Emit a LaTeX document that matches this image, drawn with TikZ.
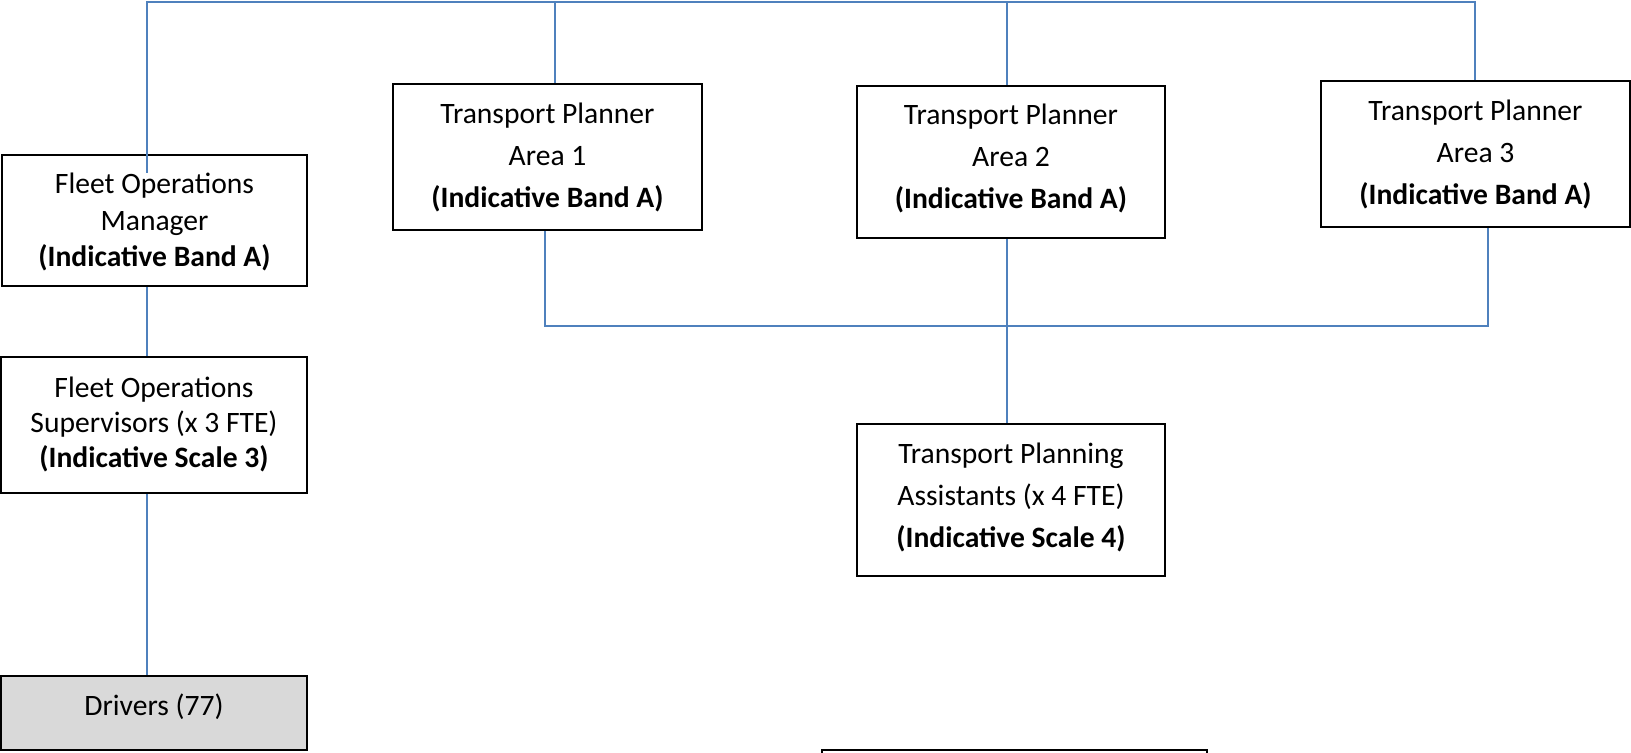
\documentclass[tikz,border=0pt]{standalone}
\usepackage{fontspec}
\setmainfont{Carlito}
\usetikzlibrary{fit}
\definecolor{linkblue}{HTML}{4F81BD}
\definecolor{drvgray}{HTML}{D9D9D9}
\begin{document}
\begin{tikzpicture}[x=0.5pt,y=-0.5pt,
  box/.style={draw=black, line width=1.1pt, inner sep=0pt, fill=white},
  lbl/.style={align=center, inner sep=0pt},
  tight/.style={font=\fontsize{14.8}{17.5}\selectfont},
  mid/.style={font=\fontsize{14.8}{18.3}\selectfont},
  loose/.style={font=\fontsize{14.8}{21}\selectfont},
  link/.style={draw=linkblue, line width=1pt}]
\useasboundingbox (0,0) rectangle (1631,753);
\fill[white] (0,0) rectangle (1631,753);

% boxes
\node[box, fit={(2,155) (307,286)}] (fom) {};
\node[box, fit={(0.5,357) (307,493)}] (fos) {};
\node[box, fill=drvgray, fit={(0.5,676) (307,750)}] (drv) {};
\node[box, fit={(393,84) (702,230)}] (tp1) {};
\node[box, fit={(857,86) (1165,238)}] (tp2) {};
\node[box, fit={(1321,81) (1630,227)}] (tp3) {};
\node[box, fit={(857,424) (1165,576)}] (tpa) {};
\node[box, fit={(822,750) (1207,840)}] (extra) {};

% labels
\node[lbl, mid] (fomt) at (154.5,222) {Fleet Operations\\Manager\\\textbf{(Indicative Band A)}};
\node[lbl, tight] (fost) at (154,424) {Fleet Operations\\Supervisors (x 3 FTE)\\\textbf{(Indicative Scale 3)}};
\node[lbl, tight] (drvt) at (154,707) {Drivers (77)};
\node[lbl, loose] (tp1t) at (547.5,157) {Transport Planner\\Area 1\\\textbf{(Indicative Band A)}};
\node[lbl, loose] (tp2t) at (1011,158) {Transport Planner\\Area 2\\\textbf{(Indicative Band A)}};
\node[lbl, loose] (tp3t) at (1475.5,154) {Transport Planner\\Area 3\\\textbf{(Indicative Band A)}};
\node[lbl, loose] (tpat) at (1011,497.5) {Transport Planning\\Assistants (x 4 FTE)\\\textbf{(Indicative Scale 4)}};

% connectors
\coordinate (fomin) at (147,173);
\coordinate (br) at (1475,2.5);
\coordinate (b1) at (555,2.5);
\coordinate (b2) at (1007,2.5);
\coordinate (l1) at (545,326);
\coordinate (l3) at (1488,326);

\draw[link] (fomin) |- (br) -- (br |- tp3.north);
\draw[link] (b1) -- (b1 |- tp1.north);
\draw[link] (b2) -- (b2 |- tp2.north);
\draw[link] (fom.south -| fomin) -- (fos.north -| fomin);
\draw[link] (fos.south -| fomin) -- (drv.north -| fomin);
\draw[link] (l1 |- tp1.south) -- (l1) -- (l3) -- (l3 |- tp3.south);
\draw[link] (b2 |- tp2.south) -- (b2 |- tpa.north);
\end{tikzpicture}
\end{document}
